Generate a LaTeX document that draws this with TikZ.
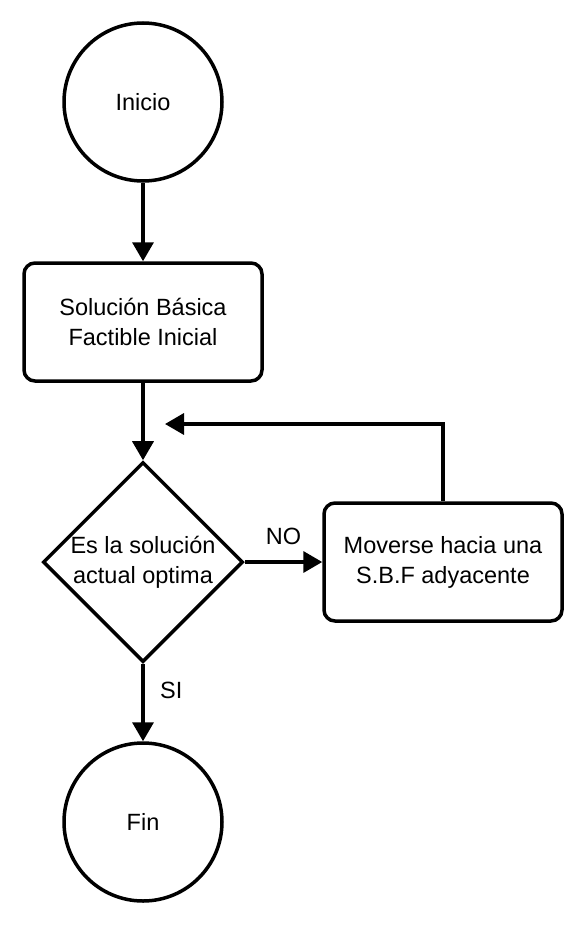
\documentclass[tikz,border=0pt]{standalone}
\usepackage{fontspec}
\setmainfont{Liberation Sans}
\usetikzlibrary{shapes.geometric,arrows.meta}

\tikzstyle{terminal} = [circle, draw, line width=3.5pt, minimum size=158pt, inner sep=0pt]
\tikzstyle{process} = [rectangle, draw, rounded corners=11pt, line width=3.5pt, minimum width=238pt, minimum height=118pt, align=center]
\tikzstyle{decision} = [diamond, draw, line width=3.5pt, minimum width=200pt, minimum height=200pt, inner sep=0pt, align=center]
\tikzstyle{flow} = [line width=3.5pt, -{Triangle[length=19pt,width=21pt]}]

\begin{document}
\begin{tikzpicture}[x=1pt, y=-1pt, font=\fontsize{23.5}{30}\selectfont]
\useasboundingbox (0,0) rectangle (586,926);
\node[terminal] (inicio) at (143,102) {Inicio};
\node[process] (sbfi) at (143,322) {Solución Básica\\Factible Inicial};
\node[decision] (optima) at (143,562) {Es la solución\\actual optima};
\node[process] (mover) at (443,562) {Moverse hacia una\\S.B.F adyacente};
\node[terminal] (fin) at (143,822) {Fin};
\coordinate (vuelta) at (165,424);

\draw[flow] (inicio) -- (sbfi);
\draw[flow] (sbfi) -- (optima);
\draw[flow] (optima.east) -- node[above=12pt] {NO} (mover);
\draw[flow] (mover.north) |- (vuelta);
\draw[flow] (optima.south) -- node[pos=0.35, right=12pt] {SI} (fin);
\end{tikzpicture}
\end{document}
